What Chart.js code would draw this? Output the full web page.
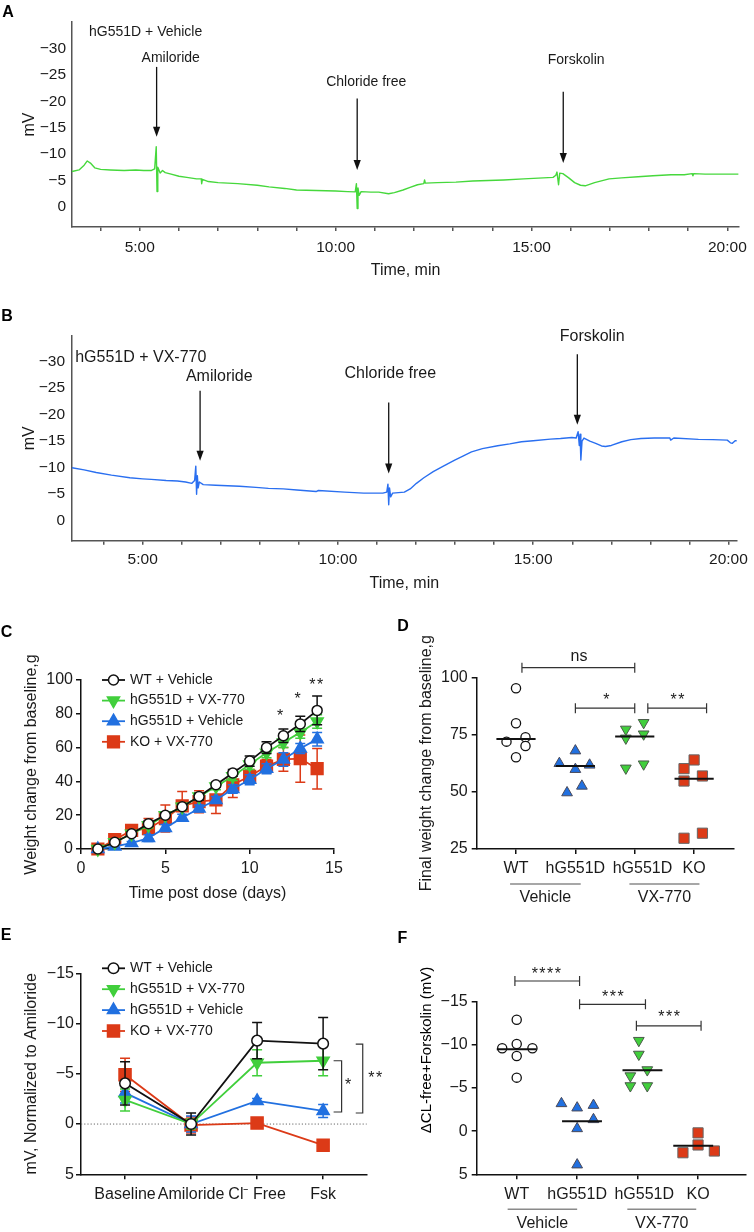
<!DOCTYPE html>
<html>
<head>
<meta charset="utf-8">
<script src="https://cdn.jsdelivr.net/npm/chart.js"></script>
<style>
  html, body { margin: 0; padding: 0; background: #fff; }
  body { position: relative; width: 754px; height: 1232px; overflow: hidden; }
  canvas { position: absolute; }
</style>
</head>
<body>
<canvas id="chartA" width="754" height="290" style="left:0;top:0;width:754px;height:290px"></canvas>
<canvas id="chartB" width="754" height="310" style="left:0;top:290px;width:754px;height:310px"></canvas>
<canvas id="chartC" width="380" height="320" style="left:0;top:600px;width:380px;height:320px"></canvas>
<canvas id="chartD" width="374" height="320" style="left:380px;top:600px;width:374px;height:320px"></canvas>
<canvas id="chartE" width="400" height="312" style="left:0;top:920px;width:400px;height:312px"></canvas>
<canvas id="chartF" width="374" height="312" style="left:380px;top:920px;width:374px;height:312px"></canvas>
<script>
// ---- data ----
// A: hG551D + Vehicle trace (time in min, potential in mV)
const timeA = [3.27,3.45,3.58,3.66,3.74,3.85,4.0,4.25,4.6,4.9,5.1,5.3,5.38,5.42,5.44,5.46,5.52,5.58,5.65,5.8,6.0,6.2,6.45,6.57,6.58,6.6,6.75,7.0,7.5,8.0,8.3,8.7,9.0,9.5,10.0,10.3,10.5,10.53,10.55,10.57,10.6,10.65,10.9,11.1,11.35,11.5,11.72,11.9,12.09,12.25,12.27,12.29,12.6,13.07,13.5,14.29,14.8,15.3,15.55,15.62,15.65,15.69,15.72,15.8,15.95,16.1,16.25,16.37,16.61,16.98,17.3,17.72,18.1,18.56,18.9,19.1,19.12,19.14,19.43,19.8,20.28];
const mvA   = [-6.7,-7.0,-7.9,-8.7,-8.3,-7.4,-7.1,-7.0,-6.9,-7.0,-6.9,-6.9,-7.2,-11.4,-2.9,-7.5,-6.4,-6.9,-6.5,-6.2,-5.8,-5.6,-5.3,-5.3,-4.4,-5.2,-4.8,-4.6,-4.4,-4.1,-3.8,-3.5,-3.2,-3.1,-3.0,-2.9,-2.85,-4.4,0.3,-3.6,-2.2,-2.9,-2.8,-2.8,-2.5,-2.7,-3.2,-3.7,-4.2,-4.4,-5.1,-4.5,-4.6,-4.7,-4.9,-5.1,-5.3,-5.5,-5.6,-6.0,-6.6,-4.2,-6.4,-6.3,-5.5,-4.6,-4.1,-4.0,-4.6,-5.3,-5.5,-5.7,-5.9,-6.1,-6.1,-6.3,-5.9,-6.3,-6.2,-6.2,-6.2];
// B: hG551D + VX-770 trace
const timeB = [3.19,3.5,3.81,4.2,4.67,5.0,5.22,5.6,5.89,6.1,6.26,6.33,6.36,6.38,6.4,6.42,6.45,6.55,6.87,7.48,7.9,8.22,8.6,8.95,9.44,9.5,10.17,10.66,11.15,11.25,11.28,11.3,11.32,11.35,11.4,11.7,11.85,12.01,12.2,12.44,12.7,12.99,13.2,13.42,13.7,14.09,14.4,14.7,15.0,15.44,15.7,15.99,16.1,16.15,16.18,16.2,16.22,16.25,16.3,16.45,16.6,16.75,16.85,17.0,17.27,17.5,17.76,18.1,18.5,18.52,18.6,19.23,19.6,19.97,20.05,20.1,20.17,20.21];
const mvB   = [-10.0,-9.6,-9.1,-8.6,-8.1,-7.9,-7.8,-7.6,-7.5,-7.3,-7.05,-7.6,-10.3,-5.0,-8.5,-6.2,-7.3,-6.8,-6.7,-6.5,-6.3,-6.1,-6.0,-5.8,-5.5,-5.7,-5.4,-5.2,-5.2,-5.4,-6.9,-3.0,-6.2,-4.5,-5.2,-5.4,-6.0,-7.05,-8.1,-9.25,-10.3,-11.45,-12.2,-13.0,-13.6,-14.15,-14.5,-14.9,-15.1,-15.4,-15.5,-15.7,-15.6,-16.8,-14.2,-16.3,-11.45,-15.0,-15.6,-15.0,-14.6,-14.1,-14.0,-14.2,-14.9,-15.3,-15.5,-15.6,-15.6,-15.2,-15.6,-15.35,-15.3,-15.2,-14.7,-14.6,-15.1,-15.1];
const minuteTicks = [4,5,6,7,8,9,10,11,12,13,14,15,16,17,18,19,20];
const mvTicks = [-30,-25,-20,-15,-10,-5,0];
const eventLabels = ['Amiloride', 'Chloride free', 'Forskolin'];
const eventTimeA = [5.43, 10.55, 15.81];
const eventTimeB = [6.47, 11.3, 16.13];

// C: weight change over time
const days = [1,2,3,4,5,6,7,8,9,10,11,12,13,14];
const wtVeh      = [0,4,9,15,20,25,31,38,45,52,60,67,74,82];
const wtVehErr   = [0.5,1,1,1.5,1.5,1.5,2,1.5,2,3,3.5,4,4.5,8.5];
const g551Vx     = [0,4,9,14,20,25,31,37,43,50,57,63,69,75.5];
const g551VxErr  = [0.5,1,1,1.5,1.5,2,2,2,2.5,3,3,3,3.5,4];
const g551Veh    = [0,1.5,3.5,6.5,12.5,18.5,24,29,35.5,41,47.5,53,59.5,65];
const g551VehErr = [0.5,1,1,2,2,2,2,2,2.5,3,3,4,3,4];
const koVx       = [0,5.5,11,12,18,25.5,28,29,38,43,49,53,53.5,47.5];
const koVxErr    = [0.5,1.5,2,6,8,8.5,6.5,8,7.5,4,4,7,14,12];

// D: final weight change (g)
const groupTicks = ['WT', 'hG551D', 'hG551D', 'KO'];
const groupNames = ['Vehicle', 'VX-770'];
const dWT   = [95.2,79.9,71.9,73.8,70.0,65.1];
const dVeh  = [67.9,62.4,61.7,59.8,52.5,49.6];
const dVx   = [77.3,80.2,73.4,75.2,60.3,62.1];
const dKO   = [63.9,60.1,54.7,56.9,29.7,31.9];
const dMedian = [73, 61.3, 74.1, 55.7];
const dJitter = [[0,0,-0.16,0.16,0.16,0],[0,-0.27,0.24,0,0.11,-0.14],[-0.15,0.15,-0.15,0.15,-0.15,0.15],[0,-0.17,-0.17,0.14,-0.17,0.14]];

// E: normalized potential per step
const steps = ['Baseline', 'Amiloride', 'Cl\u207B Free', 'Fsk'];
const eWT     = [-4.05,0,-8.3,-8.0];
const eWTErr  = [2.15,1.1,1.8,2.6];
const eVx     = [-2.4,0,-6.1,-6.3];
const eVxErr  = [1.1,0.5,1.3,1.5];
const eVeh    = [-3.1,0,-2.3,-1.3];
const eVehErr = [1.0,0.8,0.25,0.65];
const eKO     = [-4.9,0.1,-0.1,2.1];
const eKOErr  = [1.65,0.8,0.3,0.3];

// F: delta Cl-free + forskolin (mV)
const fWT  = [-12.9,-9.6,-10.1,-9.6,-8.7,-6.2];
const fVeh = [-3.2,-2.7,-3.0,-1.35,-0.3,3.9];
const fVx  = [-10.5,-8.9,-6.4,-7.1,-5.25,-5.25];
const fKO  = [0.2,1.6,2.5,2.3];
const fMedian = [-9.5, -1.15, -7.05, 1.7];
const fJitter = [[0,-0.24,0,0.26,0,0],[-0.26,0,0.27,0.27,0,0],[0.02,0.02,-0.12,0.16,-0.12,0.16],[0,0,-0.25,0.27]];

// ---- look ----
const FONT = "'Liberation Sans', Arial, Helvetica, sans-serif";
const INK = '#1a1a1a';
const GREEN = '#41cf3c', BLUE = '#2170e0', RED = '#dc3a17';
Chart.defaults.font.family = FONT;
Chart.defaults.color = INK;
Chart.defaults.animation = false;
Chart.defaults.plugins.legend.display = false;
Chart.defaults.plugins.tooltip.enabled = false;

const minus = v => (v < 0 ? '\u2212' + (-v) : String(v));

function drawMarker(ctx, style, rot, r, x, y, fill, stroke, lw) {
  ctx.save();
  ctx.translate(x, y);
  ctx.rotate((rot || 0) * Math.PI / 180);
  ctx.beginPath();
  if (style === 'circle') {
    ctx.arc(0, 0, r, 0, Math.PI * 2);
  } else if (style === 'triangle') {
    for (let k = 0; k < 3; k++) {
      const a = k * 2 * Math.PI / 3;
      ctx.lineTo(Math.sin(a) * r, -Math.cos(a) * r);
    }
    ctx.closePath();
  } else {
    const s = r * Math.SQRT1_2;
    ctx.rect(-s, -s, 2 * s, 2 * s);
  }
  ctx.fillStyle = fill;
  ctx.fill();
  ctx.lineWidth = lw;
  ctx.strokeStyle = stroke;
  ctx.stroke();
  ctx.restore();
}

// extra drawing per canvas (annotations, brackets, legends, error bars)
const EXTRAS = {};
const figExtras = {
  id: 'figExtras',
  beforeDatasetsDraw(chart) {
    const ex = EXTRAS[chart.canvas.id];
    if (!ex || !ex.zeroLine) return;
    const {ctx, chartArea: a} = chart;
    const y = chart.scales.y.getPixelForValue(0);
    ctx.save();
    ctx.strokeStyle = '#666';
    ctx.lineWidth = 1;
    ctx.setLineDash([1.2, 2]);
    ctx.beginPath(); ctx.moveTo(a.left, y); ctx.lineTo(a.right, y); ctx.stroke();
    ctx.restore();
  },
  beforeDatasetDraw(chart, args) {
    const ds = chart.data.datasets[args.index];
    if (!ds.errors) return;
    const ctx = chart.ctx, xs = chart.scales.x, ys = chart.scales.y;
    const cap = ds.errCap || 5;
    ctx.save();
    ctx.strokeStyle = ds.borderColor;
    ctx.lineWidth = 1.5;
    ds.data.forEach((p, i) => {
      const e = ds.errors[i];
      if (!e) return;
      const x = xs.getPixelForValue(p.x);
      const y0 = ys.getPixelForValue(p.y - e), y1 = ys.getPixelForValue(p.y + e);
      ctx.beginPath();
      ctx.moveTo(x, y0); ctx.lineTo(x, y1);
      ctx.moveTo(x - cap, y0); ctx.lineTo(x + cap, y0);
      ctx.moveTo(x - cap, y1); ctx.lineTo(x + cap, y1);
      ctx.stroke();
    });
    ctx.restore();
  },
  afterDraw(chart) {
    const ex = EXTRAS[chart.canvas.id];
    if (!ex) return;
    const ctx = chart.ctx;
    const px = v => chart.scales.x.getPixelForValue(v);
    const py = v => chart.scales.y.getPixelForValue(v);
    ctx.save();
    ctx.fillStyle = INK;
    ctx.strokeStyle = INK;

    (ex.arrows || []).forEach(a => {
      const x = px(a.x), y0 = py(a.y0), y1 = py(a.y1);
      ctx.strokeStyle = '#111'; ctx.fillStyle = '#111'; ctx.lineWidth = 1.3;
      ctx.beginPath(); ctx.moveTo(x, y0); ctx.lineTo(x, y1 - 8); ctx.stroke();
      ctx.beginPath(); ctx.moveTo(x - 3.6, y1 - 10); ctx.lineTo(x + 3.6, y1 - 10); ctx.lineTo(x, y1); ctx.closePath(); ctx.fill();
    });

    (ex.hbr || []).forEach(b => {
      const x0 = px(b.x0), x1 = px(b.x1), y = py(b.y);
      ctx.strokeStyle = '#333'; ctx.lineWidth = 1.2;
      ctx.beginPath();
      ctx.moveTo(x0, y); ctx.lineTo(x1, y);
      ctx.moveTo(x0, y - 5); ctx.lineTo(x0, y + 5);
      ctx.moveTo(x1, y - 5); ctx.lineTo(x1, y + 5);
      ctx.stroke();
    });

    (ex.vbr || []).forEach(b => {
      const x = px(b.x), y0 = py(b.y0), y1 = py(b.y1);
      ctx.strokeStyle = '#333'; ctx.lineWidth = 1.2;
      ctx.beginPath();
      ctx.moveTo(x - b.cap, y0); ctx.lineTo(x, y0); ctx.lineTo(x, y1); ctx.lineTo(x - b.cap, y1);
      ctx.stroke();
    });

    (ex.texts || []).forEach(t => {
      ctx.font = `${t.size}px ${FONT}`;
      ctx.fillStyle = INK; ctx.textAlign = 'center'; ctx.textBaseline = 'middle';
      const star = /^\*+$/.test(t.text);
      ctx.letterSpacing = star ? '1.5px' : '0px';
      ctx.fillText(t.text, px(t.x) + (star ? 0.75 : 0), py(t.y) + (star ? 0.22 * t.size : 0));
      ctx.letterSpacing = '0px';
    });

    if (ex.xlabels) {
      const X = ex.xlabels;
      ctx.font = `16px ${FONT}`; ctx.fillStyle = INK; ctx.textAlign = 'center'; ctx.textBaseline = 'middle';
      X.labels.forEach((s, i) => ctx.fillText(s, px(i + 1 + X.shift[i]), X.y));
    }

    (ex.groups || []).forEach(g => {
      const x0 = px(g.x0), x1 = px(g.x1);
      ctx.strokeStyle = '#8a8a8a'; ctx.lineWidth = 1.5;
      ctx.beginPath(); ctx.moveTo(x0, g.lineY); ctx.lineTo(x1, g.lineY); ctx.stroke();
      ctx.font = `16px ${FONT}`; ctx.fillStyle = INK; ctx.textAlign = 'center'; ctx.textBaseline = 'middle';
      ctx.fillText(g.text, (x0 + x1) / 2, g.textY);
    });

    if (ex.legend) {
      const L = ex.legend;
      L.items.forEach((di, k) => {
        const ds = chart.data.datasets[di];
        const y = L.y + k * L.dy;
        ctx.strokeStyle = ds.borderColor; ctx.lineWidth = ds.borderWidth;
        ctx.beginPath(); ctx.moveTo(L.x - 11.5, y); ctx.lineTo(L.x + 11.5, y); ctx.stroke();
        drawMarker(ctx, ds.pointStyle, ds.pointRotation, ds.pointRadius, L.x, y, ds.pointBackgroundColor, ds.pointBorderColor, ds.pointBorderWidth);
        ctx.font = `14px ${FONT}`; ctx.fillStyle = INK; ctx.textAlign = 'left'; ctx.textBaseline = 'middle';
        ctx.fillText(ds.label, L.tx, y);
      });
    }

    (ex.ptexts || []).forEach(t => {
      ctx.save();
      ctx.translate(t.x, t.y);
      if (t.rot) ctx.rotate(t.rot * Math.PI / 180);
      ctx.font = `${t.bold ? 'bold ' : ''}${t.size}px ${FONT}`;
      ctx.fillStyle = '#000'; ctx.textAlign = 'center'; ctx.textBaseline = 'middle';
      ctx.fillText(t.text, 0, 0);
      ctx.restore();
    });
    ctx.restore();
  }
};
Chart.register(figExtras);

// fixed plot box inside each canvas
function box(W, H, l, t, r, b) {
  return {
    padding: {left: 0, top: t, right: W - r, bottom: 0},
    yFit: s => { s.width = l; },
    xFit: s => { s.height = H - b; }
  };
}

function axis(o) {
  return {
    type: 'linear', min: o.min, max: o.max, reverse: !!o.reverse,
    afterFit: o.fit,
    afterBuildTicks: s => { s.ticks = o.ticks.map(v => ({value: v})); },
    ticks: {autoSkip: false, maxRotation: 0, minRotation: 0, padding: o.pad, color: INK, font: {size: o.size}, callback: o.fmt},
    grid: {display: o.tl > 0, drawOnChartArea: false, drawTicks: true, tickLength: o.tl || 0, color: o.color, lineWidth: o.lw},
    border: {display: true, color: o.color, width: o.lw},
    title: {display: !!o.title, text: o.title || '', color: INK, font: {size: o.tsize || 16}, padding: o.tpad || 0}
  };
}

function trace(times, values, color) {
  return {
    type: 'line', data: times.map((t, i) => ({x: t, y: values[i]})),
    borderColor: color, borderWidth: 1.4, pointRadius: 0, tension: 0, clip: false,
    borderJoinStyle: 'round'
  };
}

function series(label, xs, ys, errs, st) {
  return {
    type: st.type || 'line', label,
    data: xs.map((x, i) => ({x, y: ys[i]})),
    errors: errs, errCap: st.cap || 5,
    borderColor: st.color, borderWidth: st.lw || 1.8,
    showLine: st.line !== false,
    pointStyle: st.style, pointRotation: st.rot || 0, pointRadius: st.r,
    pointBackgroundColor: st.fill, pointBorderColor: st.stroke || st.color,
    pointBorderWidth: st.bw === undefined ? 1.5 : st.bw,
    tension: 0, clip: false, order: st.order || 0
  };
}

function dots(cat, vals, jit, st) {
  return series('', vals.map((v, i) => cat + jit[i]), vals, null, Object.assign({type: 'scatter', line: false}, st));
}

function medianLines(meds, shift) {
  return meds.map((m, i) => {
    const c = i + 1 + (shift ? shift[i] : 0);
    return {type: 'line', data: [{x: c - 0.33, y: m}, {x: c + 0.33, y: m}], borderColor: '#111', borderWidth: 2, pointRadius: 0, clip: false, order: -1};
  });
}

const mkOpts = (bx, xAxis, yAxis) => ({
  responsive: false, animation: false, devicePixelRatio: 1,
  layout: {padding: bx.padding},
  scales: {x: xAxis, y: yAxis}
});

// ---- A ----
const bxA = box(754, 290, 72, 22, 742, 227);
EXTRAS.chartA = {
  arrows: [{x: eventTimeA[0], y0: -26.5, y1: -13.3}, {x: eventTimeA[1], y0: -20.5, y1: -7.0}, {x: eventTimeA[2], y0: -21.8, y1: -8.3}],
  texts: [
    {text: 'hG551D + Vehicle', x: 5.15, y: -33.1, size: 14},
    {text: eventLabels[0], x: 5.79, y: -28.2, size: 14},
    {text: eventLabels[1], x: 10.78, y: -23.7, size: 14},
    {text: eventLabels[2], x: 16.14, y: -27.7, size: 14}
  ],
  ptexts: [{text: 'A', x: 8, y: 12.5, size: 16, bold: true}]
};
new Chart(document.getElementById('chartA'), {
  type: 'line',
  data: {datasets: [trace(timeA, mvA, '#46d83c')]},
  options: mkOpts(bxA,
    axis({min: 3.27, max: 20.3, ticks: minuteTicks, fmt: v => (v % 5 === 0 ? v + ':00' : ''), pad: 7, size: 15.5, tl: 4, color: '#555', lw: 1.5, fit: bxA.xFit, title: 'Time, min', tsize: 16, tpad: {top: 0, bottom: 10}}),
    axis({min: -35, max: 3.8, reverse: true, ticks: mvTicks, fmt: minus, pad: 6, size: 15.5, tl: 0, color: '#555', lw: 1.5, fit: bxA.yFit, title: 'mV', tsize: 16, tpad: {top: 20, bottom: 0}}))
});

// ---- B ----
const bxB = box(754, 310, 72, 46, 742, 250.7);
EXTRAS.chartB = {
  arrows: [{x: eventTimeB[0], y0: -24.5, y1: -11.3}, {x: eventTimeB[1], y0: -22.3, y1: -8.9}, {x: eventTimeB[2], y0: -31.4, y1: -18.1}],
  texts: [
    {text: 'hG551D + VX-770', x: 4.95, y: -30.75, size: 16},
    {text: eventLabels[0], x: 6.96, y: -27.2, size: 16},
    {text: eventLabels[1], x: 11.34, y: -27.8, size: 16},
    {text: eventLabels[2], x: 16.51, y: -34.8, size: 16}
  ],
  ptexts: [{text: 'B', x: 7, y: 26.7, size: 16, bold: true}]
};
new Chart(document.getElementById('chartB'), {
  type: 'line',
  data: {datasets: [trace(timeB, mvB, '#2a6ff0')]},
  options: mkOpts(bxB,
    axis({min: 3.19, max: 20.21, ticks: minuteTicks, fmt: v => (v % 5 === 0 ? v + ':00' : ''), pad: 6, size: 15.5, tl: 4, color: '#555', lw: 1.5, fit: bxB.xFit, title: 'Time, min', tsize: 16, tpad: {top: 0, bottom: 7}}),
    axis({min: -34.85, max: 3.77, reverse: true, ticks: mvTicks, fmt: minus, pad: 7, size: 15.5, tl: 0, color: '#555', lw: 1.5, fit: bxB.yFit, title: 'mV', tsize: 16, tpad: {top: 20, bottom: 0}}))
});

// ---- C ----
const bxC = box(380, 320, 81, 80, 334, 249);
EXTRAS.chartC = {
  legend: {x: 113.5, tx: 130, y: 80, dy: 20.6, items: [0, 1, 2, 3]},
  texts: [
    {text: '*', x: 11.8, y: 80.5, size: 16},
    {text: '*', x: 12.85, y: 90.7, size: 16},
    {text: '**', x: 13.95, y: 99, size: 16}
  ],
  ptexts: [{text: 'C', x: 6.5, y: 32.5, size: 16, bold: true}]
};
new Chart(document.getElementById('chartC'), {
  type: 'line',
  data: {datasets: [
    series('WT + Vehicle', days, wtVeh, wtVehErr, {color: '#111', style: 'circle', r: 5, fill: '#fff', bw: 1.5}),
    series('hG551D + VX-770', days, g551Vx, g551VxErr, {color: GREEN, style: 'triangle', rot: 180, r: 7, fill: GREEN}),
    series('hG551D + Vehicle', days, g551Veh, g551VehErr, {color: BLUE, style: 'triangle', r: 7, fill: BLUE}),
    series('KO + VX-770', days, koVx, koVxErr, {color: RED, style: 'rect', r: 8.3, fill: RED})
  ]},
  options: mkOpts(bxC,
    axis({min: 0, max: 15, ticks: [0, 5, 10, 15], fmt: v => String(v), pad: 5, size: 16, tl: 5, color: '#111', lw: 1.5, fit: bxC.xFit, title: 'Time post dose (days)', tsize: 16, tpad: {top: 0, bottom: 17}}),
    axis({min: 0, max: 100, ticks: [0, 20, 40, 60, 80, 100], fmt: v => String(v), pad: 3, size: 16, tl: 5, color: '#111', lw: 1.5, fit: bxC.yFit, title: 'Weight change from baseline,g', tsize: 16, tpad: {top: 22, bottom: 0}}))
});

// ---- D ----
const bxD = box(374, 320, 96.7, 77.3, 353.3, 249);
EXTRAS.chartD = {
  hbr: [{x0: 1.1, x1: 3.0, y: 104.2}, {x0: 2.0, x1: 3.0, y: 86.5}, {x0: 3.22, x1: 4.21, y: 86.5}],
  texts: [
    {text: 'ns', x: 2.06, y: 108.9, size: 16},
    {text: '*', x: 2.52, y: 91.3, size: 16},
    {text: '**', x: 3.72, y: 91.4, size: 16}
  ],
  xlabels: {labels: groupTicks, shift: [0, 0, 0.13, 0], y: 268.5},
  groups: [{text: groupNames[0], x0: 0.9, x1: 2.09, lineY: 284, textY: 297.7}, {text: groupNames[1], x0: 2.91, x1: 4.09, lineY: 284, textY: 297.7}],
  ptexts: [{text: 'D', x: 23, y: 26.7, size: 16, bold: true}]
};
new Chart(document.getElementById('chartD'), {
  type: 'scatter',
  data: {datasets: [
    ...medianLines(dMedian),
    dots(1, dWT, dJitter[0], {color: '#111', style: 'circle', r: 4.6, fill: '#fff', bw: 1.3}),
    dots(2, dVeh, dJitter[1], {color: BLUE, stroke: '#4a4a5a', style: 'triangle', r: 6.2, fill: BLUE, bw: 1}),
    dots(3, dVx, dJitter[2], {color: GREEN, stroke: '#4a5a4a', style: 'triangle', rot: 180, r: 6.2, fill: GREEN, bw: 1}),
    dots(4, dKO, dJitter[3], {color: RED, stroke: '#666', style: 'rect', r: 7.2, fill: RED, bw: 1})
  ]},
  options: mkOpts(bxD,
    axis({min: 0.338, max: 4.66, ticks: [1, 2, 3, 4], fmt: () => '', pad: 4, size: 16, tl: 5, color: '#111', lw: 1.5, fit: bxD.xFit}),
    axis({min: 25, max: 100, ticks: [25, 50, 75, 100], fmt: v => String(v), pad: 4, size: 16, tl: 5, color: '#111', lw: 1.5, fit: bxD.yFit, title: 'Final weight change from baseline,g', tsize: 16, tpad: {top: 37, bottom: 0}}))
});

// ---- E ----
const bxE = box(400, 312, 81, 53.3, 366.7, 254.3);
EXTRAS.chartE = {
  zeroLine: true,
  legend: {x: 113.5, tx: 130, y: 48.3, dy: 20.9, items: [0, 1, 2, 3]},
  vbr: [{x: 4.28, y0: -6.3, y1: -1.2, cap: 8}, {x: 4.6, y0: -7.95, y1: -1.1, cap: 7}],
  texts: [
    {text: '*', x: 4.38, y: -4.2, size: 16},
    {text: '**', x: 4.79, y: -4.9, size: 16}
  ],
  ptexts: [{text: 'E', x: 6, y: 16, size: 16, bold: true}]
};
new Chart(document.getElementById('chartE'), {
  type: 'line',
  data: {datasets: [
    series('WT + Vehicle', [1, 2, 3, 4], eWT, eWTErr, {color: '#111', style: 'circle', r: 5.3, fill: '#fff', bw: 1.5}),
    series('hG551D + VX-770', [1, 2, 3, 4], eVx, eVxErr, {color: GREEN, style: 'triangle', rot: 180, r: 7, fill: GREEN}),
    series('hG551D + Vehicle', [1, 2, 3, 4], eVeh, eVehErr, {color: BLUE, style: 'triangle', r: 7, fill: BLUE}),
    series('KO + VX-770', [1, 2, 3, 4], eKO, eKOErr, {color: RED, style: 'rect', r: 8.5, fill: RED})
  ]},
  options: mkOpts(bxE,
    axis({min: 0.333, max: 4.66, ticks: [1, 2, 3, 4], fmt: v => steps[v - 1] || '', pad: 6, size: 16, tl: 5, color: '#111', lw: 1.5, fit: bxE.xFit}),
    axis({min: -15, max: 5, reverse: true, ticks: [-15, -10, -5, 0, 5], fmt: minus, pad: 2, size: 16, tl: 5, color: '#111', lw: 1.5, fit: bxE.yFit, title: 'mV, Normalized to Amiloride', tsize: 16, tpad: {top: 22, bottom: 0}}))
});

// ---- F ----
const bxF = box(374, 312, 96.7, 81.7, 372, 254.3);
EXTRAS.chartF = {
  hbr: [{x0: 0.97, x1: 2.04, y: -17.4}, {x0: 2.04, x1: 3.13, y: -14.7}, {x0: 2.98, x1: 4.05, y: -12.2}],
  texts: [
    {text: '****', x: 1.49, y: -18.6, size: 16},
    {text: '***', x: 2.59, y: -15.9, size: 16},
    {text: '***', x: 3.52, y: -13.6, size: 16}
  ],
  xlabels: {labels: groupTicks, shift: [0, 0, 0.11, 0], y: 275},
  groups: [{text: groupNames[0], x0: 0.85, x1: 2.0, lineY: 289.3, textY: 303.3}, {text: groupNames[1], x0: 2.83, x1: 3.97, lineY: 289.3, textY: 303.3}],
  ptexts: [
    {text: 'F', x: 22.5, y: 18.3, size: 16, bold: true},
    {text: '\u0394CL-free+Forskolin (mV)', x: 46.7, y: 130, size: 15, rot: -90}
  ]
};
new Chart(document.getElementById('chartF'), {
  type: 'scatter',
  data: {datasets: [
    ...medianLines(fMedian, [0, 0.08, 0.08, -0.08]),
    dots(1, fWT, fJitter[0], {color: '#111', style: 'circle', r: 4.6, fill: '#fff', bw: 1.3}),
    dots(2, fVeh, fJitter[1], {color: BLUE, stroke: '#4a4a5a', style: 'triangle', r: 6.2, fill: BLUE, bw: 1}),
    dots(3, fVx, fJitter[2], {color: GREEN, stroke: '#4a5a4a', style: 'triangle', rot: 180, r: 6.2, fill: GREEN, bw: 1}),
    dots(4, fKO, fJitter[3], {color: RED, stroke: '#666', style: 'rect', r: 7.2, fill: RED, bw: 1})
  ]},
  options: mkOpts(bxF,
    axis({min: 0.338, max: 4.79, ticks: [1, 2, 3, 4], fmt: () => '', pad: 6, size: 16, tl: 5, color: '#111', lw: 1.5, fit: bxF.xFit}),
    axis({min: -15, max: 5, reverse: true, ticks: [-15, -10, -5, 0, 5], fmt: minus, pad: 4, size: 16, tl: 5, color: '#111', lw: 1.5, fit: bxF.yFit}))
});
</script>
</body>
</html>
